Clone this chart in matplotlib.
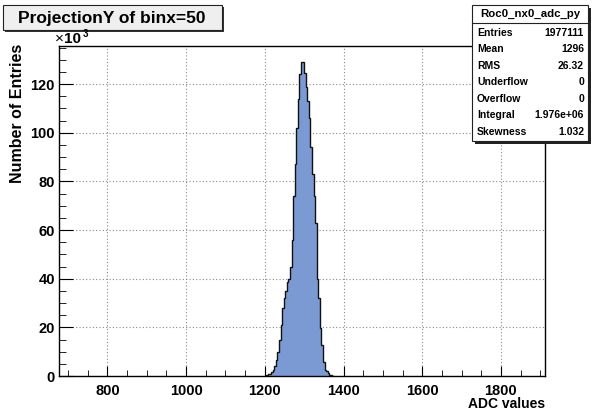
import matplotlib
matplotlib.use("Agg")
import matplotlib.pyplot as plt
from matplotlib.patches import Rectangle
from matplotlib.lines import Line2D
from matplotlib.ticker import MultipleLocator

plt.rcParams["font.family"] = ["Liberation Sans", "DejaVu Sans"]
plt.rcParams["font.weight"] = "bold"

# histogram: left bin edges (ADC) and counts in units of 10^3
bin_width = 4
bin_starts = list(range(1200, 1376, bin_width))
counts_k = [
    0.2, 0.4, 0.7, 1.0, 1.5, 2.5, 4.0, 6.5, 10.0, 15.0, 21.0,
    28.0, 32.0, 35.0, 38.5, 40.0, 45.0, 56.0, 74.0, 87.0, 102.0,
    114.0, 124.0, 129.2, 129.2, 124.4, 119.0, 113.0, 106.0, 94.0,
    83.0, 74.0, 63.0, 40.0, 32.0, 19.6, 12.7, 5.9, 2.5, 2.0, 1.1,
    0.6, 0.3, 0.1,
]
edges = bin_starts + [bin_starts[-1] + bin_width]

title = "ProjectionY of binx=50"
stats_name = "Roc0_nx0_adc_py"
stats_labels = ["Entries", "Mean", "RMS", "Underflow", "Overflow", "Integral", "Skewness"]
stats_values = ["1977111", "1296", "26.32", "0", "0", "1.976e+06", "1.032"]

W, H = 595, 416


def fx(px):
    return px / W


def fy(py):
    return 1 - py / H


fig = plt.figure(figsize=(W / 100, H / 100), dpi=100)
ax = fig.add_axes([fx(59), fy(376), fx(545) - fx(59), fy(46) - fy(376)])

ax.stairs(counts_k, edges, fill=True, color="#7b9ad3", zorder=2)
ax.stairs(counts_k, edges, color="#111111", linewidth=1.0, zorder=3)

ax.set_xlim(677, 1912)
ax.set_ylim(0, 135.7)
ax.xaxis.set_major_locator(MultipleLocator(200))
ax.xaxis.set_minor_locator(MultipleLocator(50))
ax.yaxis.set_major_locator(MultipleLocator(20))
ax.yaxis.set_minor_locator(MultipleLocator(5))
ax.grid(True, which="major", color="#888888", linestyle=(0, (1, 2)), linewidth=0.8, zorder=1)
ax.set_axisbelow(True)
ax.tick_params(which="both", direction="in", top=False, right=False, labelsize=10.5, colors="black")
ax.tick_params(axis="x", which="major", length=7, pad=6)
ax.tick_params(axis="x", which="minor", length=4)
ax.tick_params(axis="y", which="major", length=10, pad=3)
ax.tick_params(axis="y", which="minor", length=5)
for lab in ax.get_xticklabels() + ax.get_yticklabels():
    lab.set_fontweight("bold")
for sp in ax.spines.values():
    sp.set_linewidth(1.0)

fig.text(fx(18), fy(44), "Number of Entries", rotation=90, ha="center", va="top",
         fontsize=11.5, fontweight="bold")
fig.text(fx(545), fy(404), "ADC values", ha="right", va="center", fontsize=10, fontweight="bold")
fig.text(fx(55), fy(39), "\u00d7", ha="left", va="center", fontsize=11, fontweight="normal")
fig.text(fx(64), fy(39), "10", ha="left", va="center", fontsize=11, fontweight="bold")
fig.text(fx(83), fy(34), "3", ha="left", va="center", fontsize=7, fontweight="bold")

# title box with shadow
fig.add_artist(Rectangle((fx(5), fy(32)), fx(222) - fx(3), fy(5) - fy(30),
                         transform=fig.transFigure, facecolor="#333333", edgecolor="none"))
fig.add_artist(Rectangle((fx(3), fy(30)), fx(222) - fx(3), fy(5) - fy(30),
                         transform=fig.transFigure, facecolor="#efefef", edgecolor="#222222",
                         linewidth=0.8))
fig.text(fx(112), fy(18), title, ha="center", va="center", fontsize=12.5, fontweight="bold")

# stats box with shadow
fig.add_artist(Rectangle((fx(475), fy(144)), fx(588) - fx(472), fy(5) - fy(141),
                         transform=fig.transFigure, facecolor="#222222", edgecolor="none", zorder=5))
fig.add_artist(Rectangle((fx(472), fy(141)), fx(588) - fx(472), fy(5) - fy(141),
                         transform=fig.transFigure, facecolor="white", edgecolor="#222222",
                         linewidth=0.8, zorder=6))
fig.add_artist(Line2D([fx(472), fx(588)], [fy(23), fy(23)], transform=fig.transFigure,
                      color="#222222", linewidth=0.8, zorder=7))
fig.text(fx(530), fy(14), stats_name, ha="center", va="center", fontsize=8.2,
         fontweight="bold", zorder=8)
for i, (lab, val) in enumerate(zip(stats_labels, stats_values)):
    y = fy(32.7 + i * 16.5)
    fig.text(fx(477), y, lab, ha="left", va="center", fontsize=7.5, fontweight="bold", zorder=8)
    fig.text(fx(584), y, val, ha="right", va="center", fontsize=7.5, fontweight="bold", zorder=8)

fig.savefig("out.png", dpi=100)
